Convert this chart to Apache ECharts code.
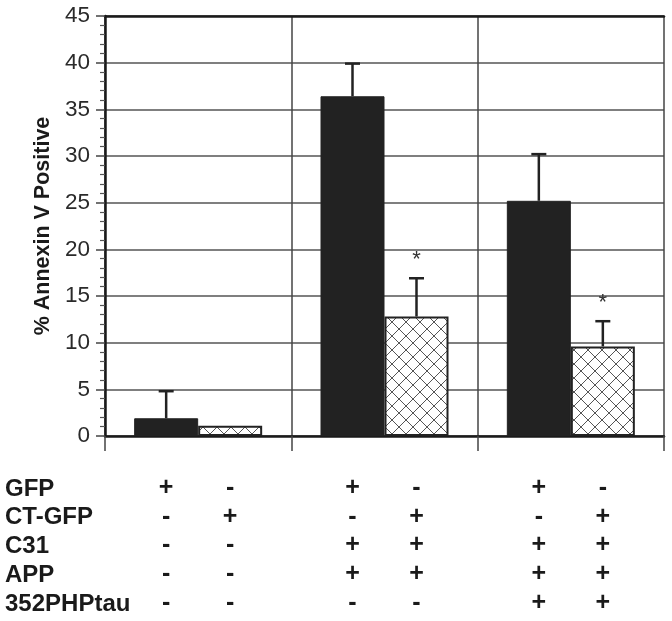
<!DOCTYPE html>
<html>
<head>
<meta charset="utf-8">
<script src="https://cdn.jsdelivr.net/npm/echarts@6/dist/echarts.min.js"></script>
<style>
html,body{margin:0;padding:0;background:#fff;}
#chart{width:672px;height:621px;}
</style>
</head>
<body>
<div id="chart"></div>
<script>
// ---- data ----
const categories = ['group1', 'group2', 'group3'];
const gfpValues = [1.9, 36.4, 25.2];      // solid bars (GFP)
const gfpErrTop = [4.8, 39.9, 30.2];      // top of error bars
const ctValues = [1.1, 12.8, 9.6];        // hatched bars (CT-GFP)
const ctErrTop = [null, 16.9, 12.3];
const ctSignificant = [false, true, true];
const yTicks = [0, 5, 10, 15, 20, 25, 30, 35, 40, 45];
const rowNames = ['GFP', 'CT-GFP', 'C31', 'APP', '352PHPtau'];
const rowGFP    = ['+', '-', '+', '-', '+', '-'];
const rowCTGFP  = ['-', '+', '-', '+', '-', '+'];
const rowC31    = ['-', '-', '+', '+', '+', '+'];
const rowAPP    = ['-', '-', '+', '+', '+', '+'];
const rowPHPtau = ['-', '-', '-', '-', '+', '+'];
const tableRows = [rowGFP, rowCTGFP, rowC31, rowAPP, rowPHPtau];

// ---- style constants ----
const BAR_W = 64;
const ROW_H = 28.75;
const FONT = '"Liberation Sans", Arial, sans-serif';

// hatch pattern
const pat = document.createElement('canvas');
pat.width = 14; pat.height = 14;
const pc = pat.getContext('2d');
pc.fillStyle = '#fff'; pc.fillRect(0, 0, 14, 14);
pc.strokeStyle = '#555'; pc.lineWidth = 1;
pc.beginPath();
pc.moveTo(0, 0); pc.lineTo(14, 14);
pc.moveTo(14, 0); pc.lineTo(0, 14);
pc.stroke();

const errData = [];
categories.forEach((c, i) => {
  if (gfpErrTop[i] != null) errData.push([i, gfpValues[i], gfpErrTop[i], 0, -1]);
  if (ctErrTop[i] != null) errData.push([i, ctValues[i], ctErrTop[i], ctSignificant[i] ? 1 : 0, 1]);
});

const chart = echarts.init(document.getElementById('chart'), null, {renderer: 'canvas'});
const option = {
  animation: false,
  backgroundColor: '#fff',
  textStyle: {fontFamily: FONT},
  grid: {left: 105, right: 8, top: 16, bottom: 185, containLabel: false},
  xAxis: [{
    type: 'category',
    data: categories,
    axisLine: {show: true, lineStyle: {color: '#1a1a1a', width: 2.5}},
    axisTick: {show: true, length: 15, lineStyle: {color: '#444', width: 1.5}},
    splitLine: {show: true, lineStyle: {color: '#444', width: 1.5}},
    axisLabel: {
      margin: 37.5,
      interval: 0,
      formatter: function (v, idx) {
        return tableRows.map(r => '{c|' + r[2 * idx] + '}{c|' + r[2 * idx + 1] + '}').join('\n');
      },
      rich: {
        c: {width: BAR_W, align: 'center', fontSize: 25, fontWeight: 'bold', lineHeight: ROW_H,
            color: '#1a1a1a', fontFamily: FONT}
      }
    }
  }, {
    type: 'category',
    data: categories,
    position: 'top',
    axisLine: {show: true, lineStyle: {color: '#1a1a1a', width: 2.5}},
    axisTick: {show: false},
    axisLabel: {show: false},
    splitLine: {show: false}
  }],
  yAxis: {
    type: 'value',
    min: 0, max: 45, interval: 5,
    name: '% Annexin V Positive',
    nameLocation: 'middle',
    nameGap: 49,
    nameTextStyle: {fontSize: 21.5, fontWeight: 'bold', color: '#1a1a1a', fontFamily: FONT},
    axisLine: {show: true, lineStyle: {color: '#1a1a1a', width: 2.5}},
    axisTick: {show: true, length: 9, lineStyle: {color: '#444', width: 1.5}},
    minorTick: {show: true, splitNumber: 5, length: 5, lineStyle: {color: '#555', width: 1.2}},
    splitLine: {show: true, lineStyle: {color: '#555', width: 1.5}},
    axisLabel: {
      margin: 15, fontSize: 22.5, color: '#2a2a2a', fontFamily: FONT,
      formatter: v => (yTicks.indexOf(v) >= 0 ? String(v) : '')
    }
  },
  series: [{
    type: 'bar',
    data: gfpValues,
    barWidth: BAR_W,
    barGap: '0%',
    itemStyle: {color: '#222', borderColor: '#222', borderWidth: 1}
  }, {
    type: 'bar',
    data: ctValues,
    barWidth: BAR_W,
    barGap: '0%',
    itemStyle: {color: {image: pat, repeat: 'repeat'}, borderColor: '#222', borderWidth: 2}
  }, {
    type: 'custom',
    data: errData,
    encode: {x: 0, y: 2},
    z: 5,
    renderItem: function (params, api) {
      const cx = api.coord([api.value(0), 0])[0] + api.value(4) * BAR_W / 2;
      const yBar = api.coord([api.value(0), api.value(1)])[1];
      const yTop = api.coord([api.value(0), api.value(2)])[1];
      const children = [
        {type: 'line', shape: {x1: cx, y1: yBar, x2: cx, y2: yTop}, style: {stroke: '#222', lineWidth: 2.5}},
        {type: 'line', shape: {x1: cx - 7.5, y1: yTop, x2: cx + 7.5, y2: yTop}, style: {stroke: '#222', lineWidth: 2.5}}
      ];
      if (api.value(3) === 1) {
        children.push({type: 'text', style: {x: cx, y: yTop - 18, text: '*', fill: '#333',
          font: '22px ' + FONT, textAlign: 'center', textVerticalAlign: 'middle'}});
      }
      return {type: 'group', children: children};
    }
  }],
  graphic: rowNames.map((n, i) => ({
    type: 'text',
    left: 5,
    top: 489 - ROW_H / 2 + i * ROW_H,
    style: {text: n, font: 'bold 24px ' + FONT, fill: '#1a1a1a', lineHeight: ROW_H, verticalAlign: 'middle'}
  }))
};
chart.setOption(option);
</script>
</body>
</html>
